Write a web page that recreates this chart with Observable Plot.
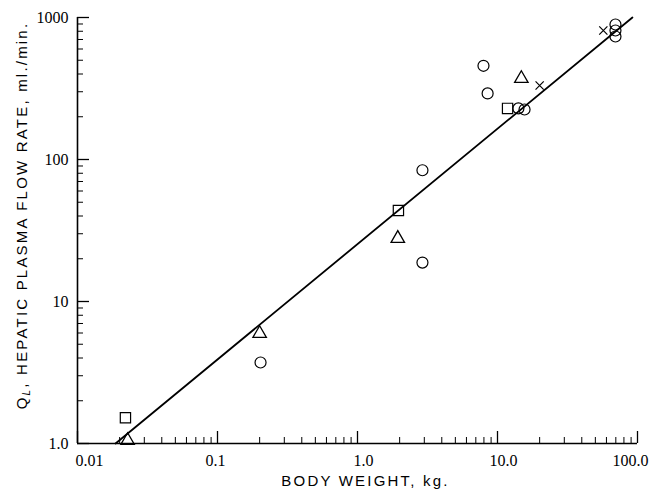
<!DOCTYPE html>
<html>
<head>
<meta charset="utf-8">
<script src="https://cdn.jsdelivr.net/npm/d3@7"></script>
<script src="https://cdn.jsdelivr.net/npm/@observablehq/plot@0.6"></script>
<style>
  html, body { margin: 0; padding: 0; background: #fff; }
</style>
</head>
<body>
<div id="chart"></div>
<script>
// Data
const circleX = [0.203, 2.91, 2.91, 7.94, 8.5, 14.1, 15.6, 69.6, 69.6, 69.6];
const circleY = [3.72, 84, 18.8, 457, 292, 229, 225, 893, 810, 735];
const squareX = [0.022, 1.96, 11.8];
const squareY = [1.52, 43.7, 229];
const triangleX = [0.0228, 0.2, 1.94, 14.8];
const triangleY = [1.05, 5.95, 27.8, 372];
const crossX = [20, 57];
const crossY = [332, 810];
const fitX = [0.0187, 92];
const fitY = [1, 1000];

const xMajor = [0.01, 0.1, 1, 10, 100];
const xMajorLabels = ["0.01", "0.1", "1.0", "10.0", "100.0"];
const yMajor = [1, 10, 100, 1000];
const yMajorLabels = ["1.0", "10", "100", "1000"];
const xMinor = xMajor.slice(0, -1).flatMap(b => d3.range(2, 10).map(k => k * b));
const yMinor = yMajor.slice(0, -1).flatMap(b => d3.range(2, 10).map(k => k * b));

const pts = (xs, ys) => xs.map((x, i) => ({x, y: ys[i]}));
const xLabel = d => xMajorLabels[xMajor.indexOf(d)];

const tickFont = "Liberation Serif";
const labelFont = "Liberation Sans";

const chart = Plot.plot({
  width: 650,
  height: 493,
  marginLeft: 77,
  marginRight: 13,
  marginTop: 17,
  marginBottom: 50,
  style: {fontFamily: tickFont, fontSize: "16px", color: "#000", background: "#fff"},
  x: {type: "log", domain: [0.01, 100]},
  y: {type: "log", domain: [1, 1000]},
  marks: [
    // axis lines
    Plot.ruleY([1], {stroke: "#000", strokeWidth: 1.6}),
    Plot.ruleX([0.01], {stroke: "#000", strokeWidth: 1.6}),
    // inward ticks
    Plot.axisX(xMinor, {tickSize: -6, tickFormat: () => "", label: null, strokeWidth: 1}),
    Plot.axisX(xMajor, {tickSize: -12, tickFormat: () => "", label: null, strokeWidth: 1.3}),
    Plot.axisY(yMinor, {tickSize: -6, tickFormat: () => "", label: null, strokeWidth: 1}),
    Plot.axisY(yMajor, {tickSize: -12, tickFormat: () => "", label: null, strokeWidth: 1.3}),
    // tick labels
    Plot.axisX([xMajor[0]], {tickSize: 0, tickPadding: 11, dx: 12, label: null, fontSize: 16, tickFormat: xLabel}),
    Plot.axisX([xMajor[1]], {tickSize: 0, tickPadding: 11, dx: -2, label: null, fontSize: 16, tickFormat: xLabel}),
    Plot.axisX(xMajor.slice(2, 4), {tickSize: 0, tickPadding: 11, dx: 6, label: null, fontSize: 16, tickFormat: xLabel}),
    Plot.axisX([xMajor[4]], {tickSize: 0, tickPadding: 11, dx: -7, label: null, fontSize: 16, tickFormat: xLabel}),
    Plot.axisY(yMajor, {tickSize: 0, tickPadding: 9, label: null, fontSize: 16,
      tickFormat: d => yMajorLabels[yMajor.indexOf(d)]}),
    // fitted line
    Plot.line(pts(fitX, fitY), {x: "x", y: "y", stroke: "#000", strokeWidth: 1.8}),
    // data
    Plot.dot(pts(circleX, circleY), {x: "x", y: "y", symbol: "circle", r: 5.5, stroke: "#000", strokeWidth: 1.2, fill: "none"}),
    Plot.dot(pts(squareX, squareY), {x: "x", y: "y", symbol: "square", r: 5.8, stroke: "#000", strokeWidth: 1.2, fill: "none"}),
    Plot.dot(pts(triangleX, triangleY), {x: "x", y: "y", symbol: "triangle", r: 5, stroke: "#000", strokeWidth: 1.3, fill: "none"}),
    Plot.dot(pts(crossX, crossY), {x: "x", y: "y", symbol: "times", r: 3.8, stroke: "#000", strokeWidth: 1.2}),
    // axis titles
    Plot.text(["BODY WEIGHT, kg."], {frameAnchor: "bottom", textAnchor: "middle", dy: 42, dx: 8, fontFamily: labelFont, fontSize: 15, fill: "#000"}),
    Plot.text(["QL, HEPATIC PLASMA FLOW RATE, ml./min."], {frameAnchor: "left", textAnchor: "middle", rotate: -90, dx: -55, dy: -15, fontFamily: labelFont, fontSize: 15, fill: "#000"})
  ]
});

document.getElementById("chart").appendChild(chart);

// letter spacing + subscript for axis titles
d3.select(chart).selectAll("text").each(function() {
  const t = d3.select(this);
  const s = t.text();
  if (s === "BODY WEIGHT, kg.") {
    t.style("letter-spacing", "2.2px");
  } else if (s.startsWith("QL, HEPATIC")) {
    t.style("letter-spacing", "2.2px");
    t.text(null);
    t.append("tspan").text("Q");
    t.append("tspan").attr("font-size", 10).attr("font-style", "italic").attr("dy", 3).text("L");
    t.append("tspan").attr("dy", -3).text(", HEPATIC PLASMA FLOW RATE, ml./min.");
  }
});
</script>
</body>
</html>
